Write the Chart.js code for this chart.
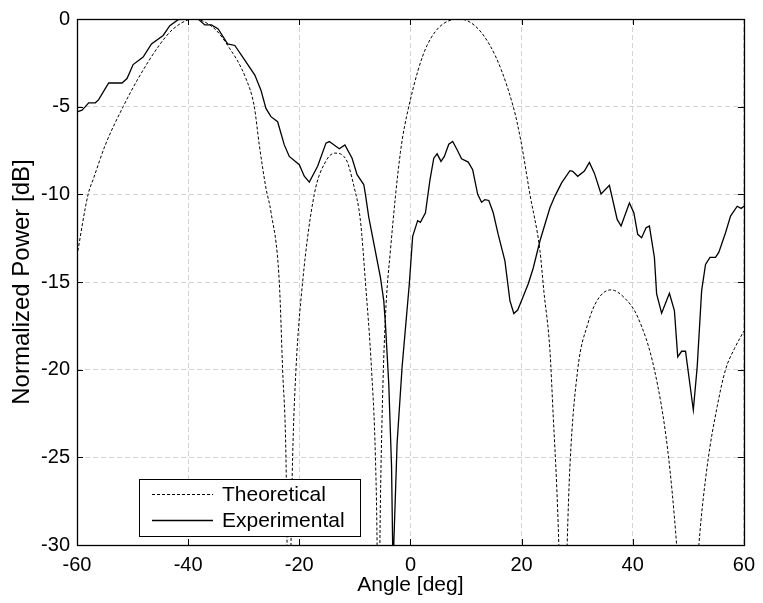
<!DOCTYPE html>
<html>
<head>
<meta charset="utf-8">
<script src="https://cdn.jsdelivr.net/npm/chart.js@4.4.0/dist/chart.umd.min.js"></script>
<style>
  html, body { margin: 0; padding: 0; background: #fff; }
</style>
</head>
<body>
<canvas id="chart" width="763" height="603"></canvas>
<script>
// values (deg, dB); nulls go below -30 and get clipped
const theoAngle = [-60, -58, -57, -54.9, -51.7, -49, -45.2, -42.7, -39, -35.2, -32.9, -29.6, -28.1, -27.2, -26, -25.1, -23.6, -23.0, -22.4, -22.2, -21.9, -21.5, -21.2, -20.6, -19.4, -17.3, -15.2, -13.6, -11.6, -10.2, -9.0, -8.1, -7.0, -6.3, -6.0, -5.75, -5.5, -5.1, -4.5, -3.6, -1.8, -0.3, 3.0, 8.8, 14.3, 18.5, 19.9, 21.5, 23.3, 24.0, 25.1, 25.7, 26.3, 26.7, 27.45, 28.2, 28.7, 30.1, 31.9, 33.7, 36.1, 38.5, 40.9, 43.9, 46.3, 47.9, 49.9, 51.9, 53.4, 55.2, 56.7, 58.3, 60];
const theoPower = [-13.5, -10, -9.07, -7.18, -5, -3.4, -1.5, -0.57, 0, -0.57, -1.5, -3.4, -5, -7.18, -9.64, -11, -15, -20, -25, -30, -40, -30, -25, -20, -15, -10, -8.1, -7.65, -8.0, -9.5, -11.5, -15, -20, -25, -30, -40, -30, -22.7, -17, -13.2, -7.6, -5, -1.5, 0, -1.5, -5, -7, -10, -13.2, -15.5, -18.9, -22.7, -26.5, -30, -40, -30, -25.5, -20, -17.4, -16, -15.45, -15.9, -17, -20, -24.6, -30, -40, -30, -25.5, -22.1, -20, -18.8, -17.8];

const expAngle = [-60, -59.1, -58.5, -57.9, -56.7, -56.1, -54.3, -51.9, -51.0, -49.9, -48.1, -46.6, -44.5, -43.3, -41.8, -40.0, -39.0, -38.2, -37.0, -35.8, -34.6, -32.9, -31.6, -29.9, -28.0, -26.9, -26.0, -25.1, -23.9, -22.7, -21.8, -20.0, -19.1, -18.2, -16.7, -15.2, -14.6, -12.8, -11.8, -10.5, -9.6, -8.4, -8.1, -7.5, -6.9, -5.4, -4.8, -4.5, -3.9, -3.4, -3.2, -3.1, -3.0, -2.4, -1.5, -0.2, 0.4, 1.3, 1.8, 2.7, 3.5, 4.2, 4.8, 5.5, 6.1, 6.9, 7.6, 8.4, 9.2, 10.4, 11.2, 12.1, 12.8, 13.4, 14.1, 14.9, 15.8, 17.0, 17.9, 18.6, 19.3, 20.0, 21.2, 22.1, 23.3, 25.1, 26.0, 27.2, 28.7, 29.2, 30.1, 31.3, 32.2, 33.1, 34.3, 35.8, 37.2, 37.9, 39.4, 40.2, 40.9, 41.6, 42.4, 43.0, 43.9, 44.3, 45.2, 46.6, 47.5, 48.1, 48.8, 49.5, 50.9, 51.6, 52.4, 53.1, 53.9, 54.9, 55.5, 56.7, 57.6, 58.8, 59.5, 60];
const expPower = [-5.3, -5.2, -5.0, -4.78, -4.78, -4.6, -3.65, -3.65, -3.4, -2.6, -2.17, -1.42, -0.94, -0.38, -0.04, 0, 0, 0, -0.34, -0.34, -0.57, -1.42, -1.51, -2.3, -3.2, -4.06, -5.1, -5.57, -5.86, -7.18, -7.84, -8.31, -8.97, -9.3, -8.4, -7.08, -6.99, -7.4, -7.18, -7.94, -8.88, -9.44, -10.0, -11.3, -12.28, -14.74, -16.06, -17.4, -20.8, -25.5, -30, -33, -30, -24.2, -19.84, -15.1, -12.4, -11.5, -11.6, -11.05, -9.2, -7.94, -7.69, -8.12, -7.84, -7.14, -6.99, -7.46, -7.97, -8.16, -8.6, -10.0, -10.45, -10.3, -10.35, -11.05, -12.3, -13.8, -16.06, -16.8, -16.6, -16.06, -15.1, -14.2, -12.66, -10.77, -10.1, -9.35, -8.65, -8.69, -8.97, -8.67, -8.18, -8.79, -9.98, -9.49, -11.43, -11.81, -10.49, -11.05, -12.28, -12.47, -11.9, -11.81, -13.6, -15.68, -16.78, -15.64, -16.63, -19.27, -18.95, -18.95, -22.3, -19.84, -15.49, -14.0, -13.6, -13.6, -13.3, -12.19, -11.24, -10.68, -10.8, -10.68];

const seriesNames = ["Theoretical", "Experimental"];
const xRange = [-60, 60];
const yRange = [-30, 0];

function toPoints(xs, ys) {
    var pts = [];
    for (var i = 0; i < xs.length; i++) pts.push({ x: xs[i], y: ys[i] });
    return pts;
}

const FAMILY = "'Liberation Sans', Arial, sans-serif";
const FONT = { family: FAMILY, size: 20 };

// MATLAB style box, inward ticks and the legend
const boxPlugin = {
    id: 'box',
    afterDatasetsDraw(chart) {
        const ctx = chart.ctx;
        const a = chart.chartArea;
        const xs = chart.scales.x, ys = chart.scales.y;
        ctx.save();
        ctx.strokeStyle = '#000';
        ctx.lineWidth = 1;
        ctx.setLineDash([]);
        ctx.beginPath();
        xs.ticks.forEach(function (t) {
            const px = Math.round(xs.getPixelForValue(t.value)) + 0.5;
            ctx.moveTo(px, a.bottom); ctx.lineTo(px, a.bottom - 6);
            ctx.moveTo(px, a.top); ctx.lineTo(px, a.top + 6);
        });
        ys.ticks.forEach(function (t) {
            const py = Math.round(ys.getPixelForValue(t.value)) + 0.5;
            ctx.moveTo(a.left, py); ctx.lineTo(a.left + 6, py);
            ctx.moveTo(a.right, py); ctx.lineTo(a.right - 6, py);
        });
        ctx.stroke();
        ctx.lineWidth = 1.3;
        ctx.strokeRect(Math.round(a.left) + 0.5, Math.round(a.top) + 0.5, Math.round(a.right - a.left), Math.round(a.bottom - a.top));

        // legend
        ctx.lineWidth = 1;
        const lx = 139.5, ly = 479.5, lw = 221, lh = 57;
        ctx.fillStyle = '#fff';
        ctx.fillRect(lx, ly, lw, lh);
        ctx.strokeRect(lx, ly, lw, lh);
        const rows = [494.5, 520.5];
        chart.data.datasets.forEach(function (ds, i) {
            ctx.beginPath();
            ctx.lineWidth = ds.borderWidth;
            ctx.setLineDash(ds.borderDash || []);
            ctx.moveTo(152, rows[i]);
            ctx.lineTo(213, rows[i]);
            ctx.stroke();
            ctx.setLineDash([]);
            ctx.fillStyle = '#000';
            ctx.font = '21px ' + FAMILY;
            ctx.textAlign = 'left';
            ctx.textBaseline = 'middle';
            ctx.fillText(ds.label, 222, rows[i] + 1);
        });
        ctx.restore();
    }
};

const ctx = document.getElementById('chart').getContext('2d');
const myChart = new Chart(ctx, {
    type: 'line',
    data: {
        datasets: [{
            label: seriesNames[0],
            data: toPoints(theoAngle, theoPower),
            borderColor: '#000',
            borderWidth: 1,
            borderDash: [3, 2],
            pointRadius: 0,
            cubicInterpolationMode: 'monotone',
            fill: false
        }, {
            label: seriesNames[1],
            data: toPoints(expAngle, expPower),
            borderColor: '#000',
            borderWidth: 1.3,
            pointRadius: 0,
            tension: 0,
            fill: false
        }]
    },
    options: {
        responsive: false,
        animation: false,
        devicePixelRatio: 1,
        layout: { padding: { left: 0, right: 16, top: 17, bottom: 0 } },
        plugins: {
            legend: { display: false },
            tooltip: { enabled: false }
        },
        scales: {
            x: {
                type: 'linear',
                min: xRange[0],
                max: xRange[1],
                ticks: { stepSize: 20, color: '#000', font: FONT, padding: 8, maxRotation: 0 },
                grid: { color: '#d4d4d4', drawTicks: false },
                border: { display: false, dash: [5, 3] },
                title: { display: true, text: 'Angle [deg]', color: '#000', font: { family: FAMILY, size: 21 }, padding: { top: 4, bottom: 5 } },
                afterFit: function (scale) { scale.height = 58; }
            },
            y: {
                type: 'linear',
                min: yRange[0],
                max: yRange[1],
                ticks: { stepSize: 5, color: '#000', font: FONT, padding: 7 },
                grid: { color: '#d4d4d4', drawTicks: false },
                border: { display: false, dash: [5, 3] },
                title: { display: true, text: 'Normalized Power [dB]', color: '#000', font: { family: FAMILY, size: 24 }, padding: { top: 8, bottom: 4 } },
                afterFit: function (scale) { scale.width = 77; }
            }
        }
    },
    plugins: [boxPlugin]
});
</script>
</body>
</html>
